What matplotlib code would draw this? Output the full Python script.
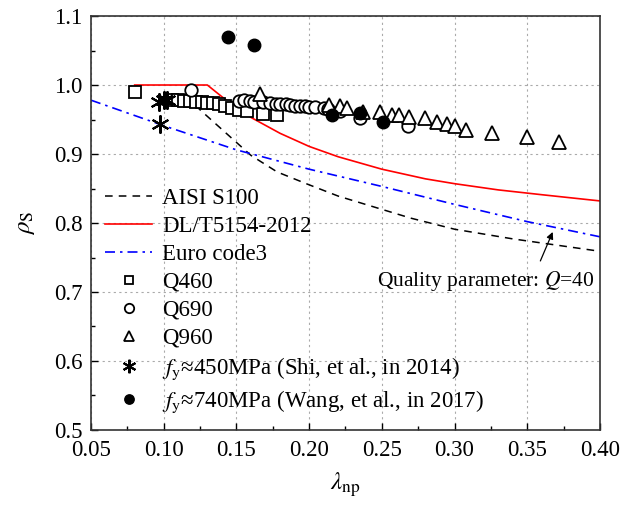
import matplotlib
matplotlib.use("Agg")
import matplotlib.pyplot as plt

plt.rcParams['font.family'] = ['Liberation Serif', 'DejaVu Serif']
plt.rcParams['mathtext.fontset'] = 'stix'

# design curves
aisi_x = [0.115, 0.125, 0.143, 0.160, 0.178, 0.198, 0.220, 0.245, 0.270, 0.300, 0.340, 0.370, 0.400]
aisi_y = [0.985, 0.964, 0.930, 0.898, 0.874, 0.857, 0.839, 0.823, 0.807, 0.791, 0.777, 0.768, 0.759]

dl_x = [0.08, 0.13, 0.14, 0.15, 0.16, 0.18, 0.20, 0.22, 0.25, 0.28, 0.30, 0.33, 0.36, 0.40]
dl_y = [1.0, 1.0, 0.983, 0.967, 0.953, 0.930, 0.911, 0.896, 0.878, 0.864, 0.857, 0.848, 0.841, 0.832]

ec3_x = [0.05, 0.10, 0.15, 0.20, 0.25, 0.30, 0.35, 0.40]
ec3_y = [0.978, 0.941, 0.906, 0.878, 0.853, 0.827, 0.802, 0.780]

# test data
q460_x = [0.080, 0.106, 0.110, 0.114, 0.118, 0.122, 0.126, 0.130, 0.134, 0.138, 0.142, 0.147, 0.152, 0.157, 0.168, 0.178]
q460_y = [0.990, 0.978, 0.978, 0.977, 0.977, 0.976, 0.975, 0.974, 0.974, 0.972, 0.970, 0.967, 0.964, 0.963, 0.958, 0.956]

q690_x = [0.119, 0.152, 0.155, 0.159, 0.162, 0.168, 0.173, 0.177, 0.180, 0.184, 0.187, 0.190, 0.194, 0.197, 0.200,
          0.204, 0.210, 0.213, 0.221, 0.235, 0.268]
q690_y = [0.993, 0.977, 0.978, 0.977, 0.976, 0.975, 0.974, 0.973, 0.972, 0.972, 0.971, 0.970, 0.970, 0.969, 0.968,
          0.968, 0.966, 0.965, 0.963, 0.952, 0.941]

q960_x = [0.166, 0.214, 0.221, 0.226, 0.237, 0.249, 0.257, 0.262, 0.269, 0.280, 0.288, 0.295, 0.300, 0.308, 0.326, 0.350, 0.372]
q960_y = [0.987, 0.971, 0.969, 0.967, 0.961, 0.961, 0.957, 0.956, 0.954, 0.952, 0.947, 0.944, 0.941, 0.935, 0.930, 0.924, 0.918]

shi_x = [0.097, 0.100, 0.102, 0.0975]
shi_y = [0.976, 0.978, 0.979, 0.944]

wang_x = [0.144, 0.162, 0.2155, 0.235, 0.251]
wang_y = [1.070, 1.058, 0.956, 0.959, 0.947]

fig = plt.figure(figsize=(6.2, 5.07), dpi=100)
ax = fig.add_axes([0.1468, 0.1519, 0.8209, 0.8165])

ax.plot(aisi_x, aisi_y, color='black', ls=(0, (5, 4)), lw=1.1, label='AISI S100')
ax.plot(dl_x, dl_y, color='red', ls='-', lw=1.2, label='DL/T5154-2012')
ax.plot(ec3_x, ec3_y, color='blue', ls=(0, (6, 3, 1.5, 3)), lw=1.2, label='Euro code3')

mk = dict(ls='none', mfc='white', mec='black', mew=1.3)
ax.plot(q460_x, q460_y, marker='s', ms=8, label='Q460', **mk)
ax.plot(q690_x, q690_y, marker='o', ms=9, label='Q690', **mk)
ax.plot(q960_x, q960_y, marker='^', ms=10, label='Q960', **mk)
ax.plot(shi_x, shi_y, ls='none', marker=(6, 2, 0), ms=13, mec='black', mew=1.5,
        label=r'$f_{\mathrm{y}}$≈450MPa (Shi, et al., in 2014)')
ax.plot(wang_x, wang_y, ls='none', marker='o', ms=9, mfc='black', mec='black',
        label=r'$f_{\mathrm{y}}$≈740MPa (Wang, et al., in 2017)')

ax.text(0.396, 0.716, r'Quality parameter: $Q$=40', fontsize=15.5, ha='right', va='center')
ax.annotate('', xy=(0.3675, 0.787), xytext=(0.359, 0.745),
            arrowprops=dict(arrowstyle='-|>', color='black', lw=0.9, shrinkA=0, shrinkB=0,
                            mutation_scale=10))

ax.set_xlim(0.05, 0.40)
ax.set_ylim(0.5, 1.1)
ax.set_xticks([0.05, 0.10, 0.15, 0.20, 0.25, 0.30, 0.35, 0.40])
ax.set_xticklabels(['0.05', '0.10', '0.15', '0.20', '0.25', '0.30', '0.35', '0.40'])
ax.set_yticks([0.5, 0.6, 0.7, 0.8, 0.9, 1.0, 1.1])
ax.set_yticklabels(['0.5', '0.6', '0.7', '0.8', '0.9', '1.0', '1.1'])
ax.set_xticks([0.075, 0.125, 0.175, 0.225, 0.275, 0.325, 0.375], minor=True)
ax.set_yticks([0.55, 0.65, 0.75, 0.85, 0.95, 1.05], minor=True)
ax.tick_params(which='both', direction='in', labelsize=16.5)
ax.tick_params(axis='x', which='major', pad=7)
ax.tick_params(axis='y', which='major', pad=6)
ax.tick_params(which='major', length=5, width=1)
ax.tick_params(which='minor', length=3, width=1)
ax.grid(True, which='major', ls=(0, (2, 3)), color='#aaaaaa', lw=0.8)
for s in ax.spines.values():
    s.set_linewidth(1.2)
    s.set_color('#333333')

ax.set_xlabel(r'$\lambda_{\mathrm{np}}$', fontsize=18, labelpad=7)
ax.set_ylabel(r'$\rho_{\mathrm{S}}$', fontsize=18, labelpad=12)

ax.legend(loc='lower left', bbox_to_anchor=(0.0275, 0.035), frameon=False, fontsize=16.5,
          handlelength=2.05, handletextpad=0.45, labelspacing=0.3, borderpad=0,
          borderaxespad=0, markerscale=0.75, numpoints=1)

fig.savefig('out.png', dpi=100)
